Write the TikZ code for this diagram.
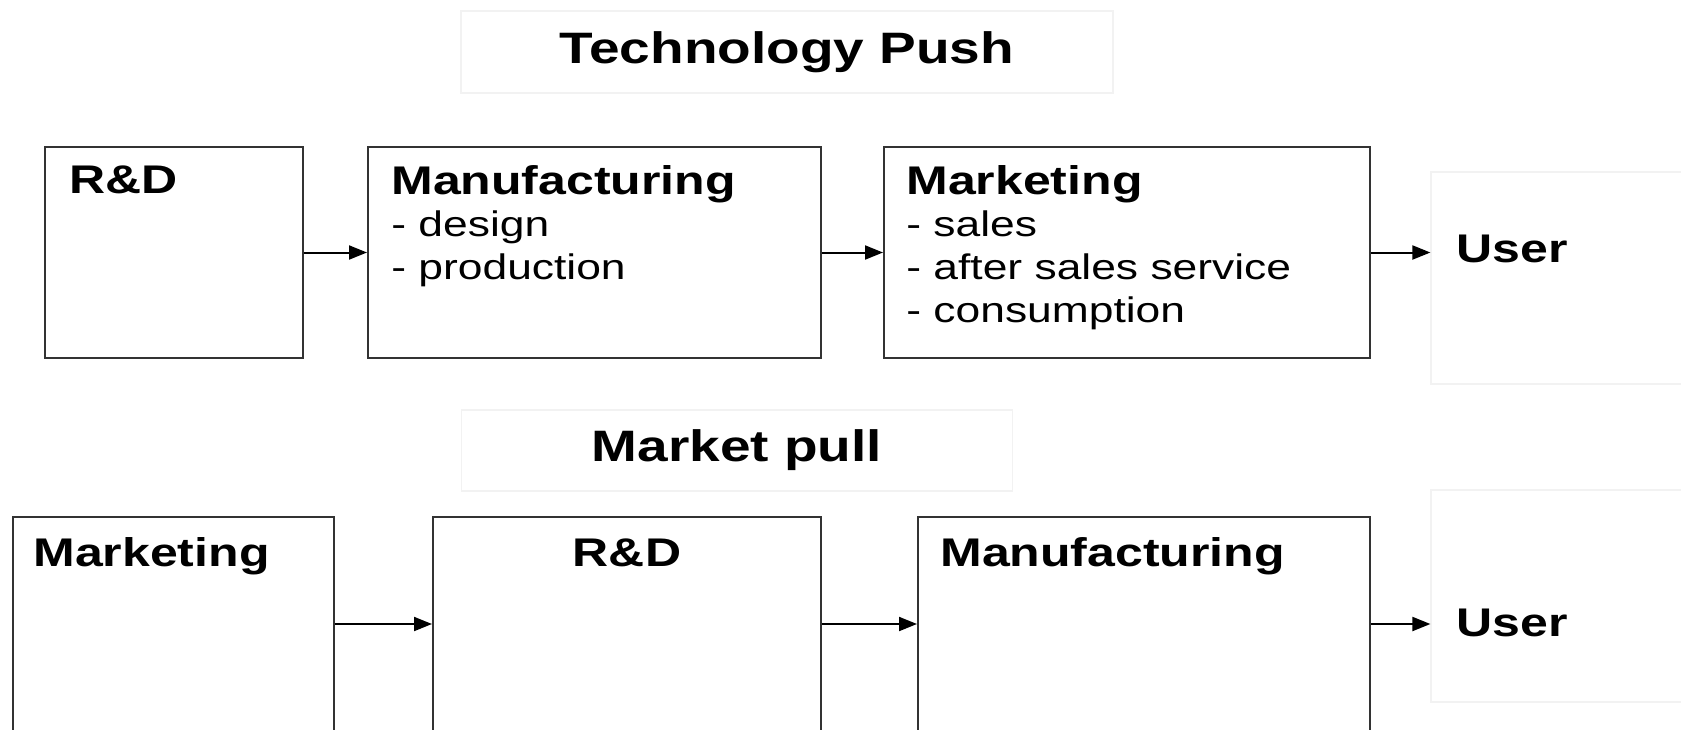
\documentclass[tikz,border=0pt]{standalone}
\usepackage{fontspec}
\setmainfont[FakeStretch=1.25]{Liberation Sans}
\usetikzlibrary{arrows.meta}
\begin{document}
\begin{tikzpicture}[x=0.5pt,y=-0.5pt,
  box/.style={draw=black!80,line width=1pt,inner sep=0pt,fill=none},
  faint/.style={draw=black!5,line width=0.6pt,inner sep=0pt},
  arr/.style={draw=black,line width=1pt,-{Triangle[length=9pt,width=7pt]}},
  head/.style={font=\fontsize{20pt}{24pt}\selectfont\bfseries,inner sep=0pt,anchor=base west},
  sub/.style={font=\fontsize{17.75pt}{21pt}\selectfont,inner sep=0pt,anchor=base west},
  ttl/.style={font=\fontsize{22pt}{26pt}\selectfont\bfseries}]
\useasboundingbox (0,0) rectangle (1681,729);
\clip (0,0) rectangle (1681,729);
% titles
\node[faint,ttl,minimum width=326pt,minimum height=41pt] (t1) at (787,52) {Technology Push};
\node[faint,ttl,minimum width=275.5pt,minimum height=40.5pt] (t2) at (737,450.5) {Market pull};
% top row
\node[box,minimum width=129pt,minimum height=105.5pt] (rd1) at (174,252.5) {};
\node[box,minimum width=226.5pt,minimum height=105.5pt] (man1) at (594.5,252.5) {};
\node[box,minimum width=243pt,minimum height=105.5pt] (mk1) at (1127,252.5) {};
\node[faint,minimum width=129.5pt,minimum height=106pt] (u1) at (1560.5,278) {};
\node[head] (rd1t) at (69,193) {R\&D};
\node[head] (man1t) at (391,194) {Manufacturing};
\node[sub] (man1a) at (391,236) {- design};
\node[sub] (man1b) at (391,279) {- production};
\node[head] (mk1t) at (906,194) {Marketing};
\node[sub] (mk1a) at (906,236) {- sales};
\node[sub] (mk1b) at (906,279) {- after sales service};
\node[sub] (mk1c) at (906,322) {- consumption};
\node[head,anchor=west] (u1t) at (1456,249) {User};
\draw[arr] (rd1.east) -- (man1.west);
\draw[arr] (man1.east) -- (mk1.west);
\draw[arr] (mk1.east) -- (mk1.east -| u1.west);
% bottom row
\node[box,minimum width=160.5pt,minimum height=107pt] (mk2) at (173.5,624) {};
\node[box,minimum width=194pt,minimum height=107pt] (rd2) at (627,624) {};
\node[box,minimum width=226pt,minimum height=107pt] (man2) at (1144,624) {};
\node[faint,minimum width=129.5pt,minimum height=106pt] (u2) at (1560.5,596) {};
\node[head] (mk2t) at (33,566) {Marketing};
\node[head,anchor=base] (rd2t) at (627,566) {R\&D};
\node[head] (man2t) at (940,566) {Manufacturing};
\node[head,anchor=west] (u2t) at (1456,623) {User};
\draw[arr] (mk2.east) -- (rd2.west);
\draw[arr] (rd2.east) -- (man2.west);
\draw[arr] (man2.east) -- (man2.east -| u2.west);
\end{tikzpicture}
\end{document}
